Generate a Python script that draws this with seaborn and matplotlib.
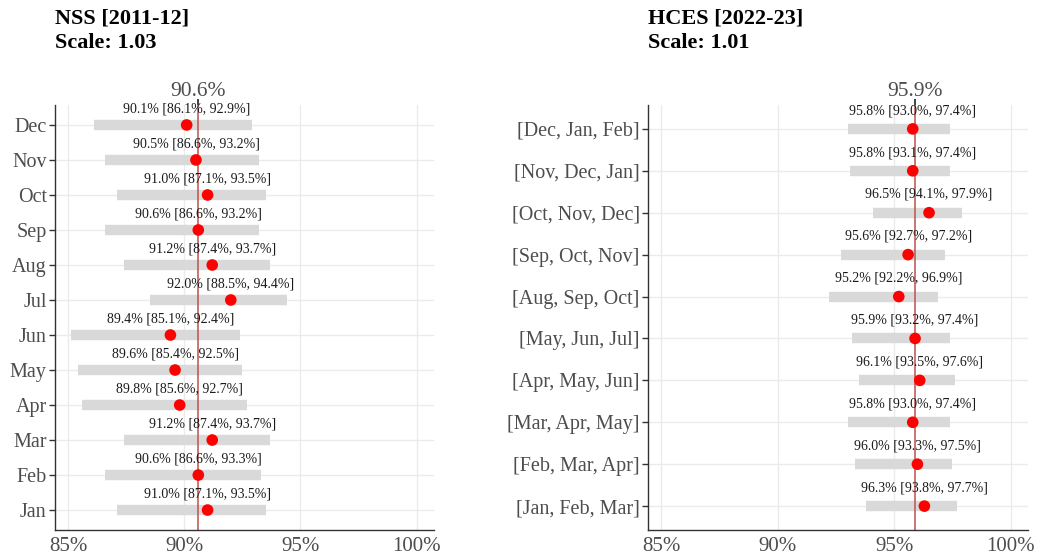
import numpy as np
import pandas as pd
import matplotlib
matplotlib.use("Agg")
import matplotlib.pyplot as plt
import seaborn as sns

# ---------------- data ----------------
nss_labels = ["Dec", "Nov", "Oct", "Sep", "Aug", "Jul", "Jun", "May", "Apr", "Mar", "Feb", "Jan"]
nss_est = [90.1, 90.5, 91.0, 90.6, 91.2, 92.0, 89.4, 89.6, 89.8, 91.2, 90.6, 91.0]
nss_lo = [86.1, 86.6, 87.1, 86.6, 87.4, 88.5, 85.1, 85.4, 85.6, 87.4, 86.6, 87.1]
nss_hi = [92.9, 93.2, 93.5, 93.2, 93.7, 94.4, 92.4, 92.5, 92.7, 93.7, 93.3, 93.5]
nss_mean = 90.6
nss_title = "NSS [2011-12]\nScale: 1.03"

hces_labels = ["[Dec, Jan, Feb]", "[Nov, Dec, Jan]", "[Oct, Nov, Dec]", "[Sep, Oct, Nov]",
               "[Aug, Sep, Oct]", "[May, Jun, Jul]", "[Apr, May, Jun]", "[Mar, Apr, May]",
               "[Feb, Mar, Apr]", "[Jan, Feb, Mar]"]
hces_est = [95.8, 95.8, 96.5, 95.6, 95.2, 95.9, 96.1, 95.8, 96.0, 96.3]
hces_lo = [93.0, 93.1, 94.1, 92.7, 92.2, 93.2, 93.5, 93.0, 93.3, 93.8]
hces_hi = [97.4, 97.4, 97.9, 97.2, 96.9, 97.4, 97.6, 97.4, 97.5, 97.7]
hces_mean = 95.9
hces_title = "HCES [2022-23]\nScale: 1.01"

x_ticks = [85, 90, 95, 100]
x_ticklabels = ["85%", "90%", "95%", "100%"]

# ---------------- style ----------------
sns.set_theme(style="white")
plt.rcParams["font.family"] = ["Liberation Serif", "DejaVu Serif"]

W, H = 1039, 557
fig = plt.figure(figsize=(W / 100, H / 100), dpi=100)

GRAY_TXT = "#4d4d4d"


def panel(rect, labels, est, lo, hi, mean, title):
    ax = fig.add_axes(rect)
    n = len(labels)
    df = pd.DataFrame({"label": labels, "est": est, "lo": lo, "hi": hi})
    df["pos"] = np.arange(n)[::-1]
    for xt in x_ticks:
        ax.axvline(xt, color="#ebebeb", lw=1.0, zorder=0)
    for p in df["pos"]:
        ax.axhline(p, color="#ebebeb", lw=1.0, zorder=0)
    ax.hlines(df["pos"], df["lo"], df["hi"], color="#d9d9d9", lw=7.5, zorder=1)
    ax.axvline(mean, color="#c0504d", lw=1.1, zorder=2)
    sns.scatterplot(data=df, x="est", y="pos", ax=ax, color="#ff0000", s=70,
                    edgecolor="none", zorder=3, legend=False)
    for _, r in df.iterrows():
        ax.text(r["est"], r["pos"] + 0.28, f"{r['est']:.1f}% [{r['lo']:.1f}%, {r['hi']:.1f}%]",
                ha="center", va="bottom", fontsize=10, color="#1a1a1a", zorder=4)
    ax.set_xlim(84.43, 100.75)
    ax.set_ylim(-0.57, n - 1 + 0.57)
    ax.set_xticks(x_ticks)
    ax.set_xticklabels(x_ticklabels, fontsize=15, color=GRAY_TXT)
    ax.set_yticks(df["pos"])
    ax.set_yticklabels(df["label"], fontsize=14.5, color=GRAY_TXT)
    ax.tick_params(axis="y", length=4, width=1, color="#333333", pad=2, left=True)
    ax.tick_params(axis="x", length=0, pad=5)
    ax.set_xlabel("")
    ax.set_ylabel("")
    for s in ["top", "right"]:
        ax.spines[s].set_visible(False)
    for s in ["left", "bottom"]:
        ax.spines[s].set_color("#333333")
        ax.spines[s].set_linewidth(1.0)
    sec = ax.secondary_xaxis("top")
    sec.set_xticks([mean])
    sec.set_xticklabels([f"{mean}%"], fontsize=15.5, color=GRAY_TXT)
    sec.tick_params(length=4, width=1.2, color="#222222", pad=-1)
    sec.spines["top"].set_visible(False)
    fig.text(rect[0], 0.985, title, ha="left", va="top", fontsize=16,
             fontweight="bold", color="black", linespacing=1.3)
    return ax


bottom = 1 - 530 / H
top = 1 - 105 / H
panel([55 / W, bottom, (434 - 55) / W, top - bottom], nss_labels, nss_est, nss_lo, nss_hi,
      nss_mean, nss_title)
panel([648 / W, bottom, (1028 - 648) / W, top - bottom], hces_labels, hces_est, hces_lo, hces_hi,
      hces_mean, hces_title)

fig.savefig("out.png", dpi=100)
